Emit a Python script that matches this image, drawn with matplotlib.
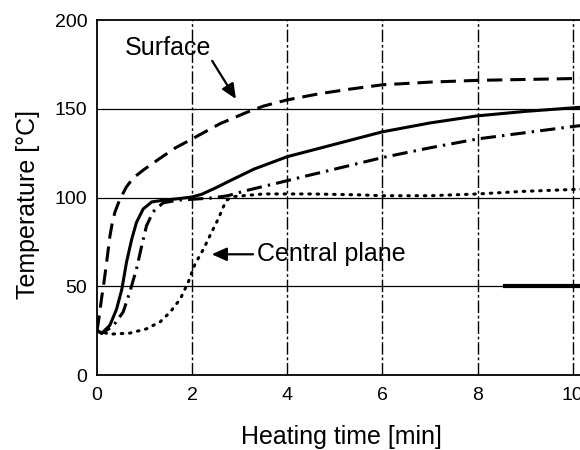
import matplotlib
matplotlib.use('Agg')
from matplotlib import pyplot as plt

# heating time [min] / temperature [degC] along each curve
surface_t = [0.0, 0.03, 0.06, 0.1, 0.13, 0.2, 0.27, 0.33, 0.38, 0.48, 0.62, 0.76,
	1.0, 1.32, 1.65, 2.0, 2.58, 3.15, 3.5, 4.0, 4.68, 5.3, 6.0, 7.0, 8.0, 9.0, 10.0, 10.5]
surface_temp = [25, 30, 36, 44, 49, 63, 78, 87, 92, 99, 106, 111,
	116, 122, 128, 133, 141.5, 148, 151.5, 155, 158.5, 161, 163.5, 165, 166, 166.5, 167, 167.5]

solid_t = [0.0, 0.1, 0.27, 0.41, 0.52, 0.62, 0.73, 0.83, 0.97, 1.15, 1.4, 1.7,
	2.0, 2.2, 2.5, 2.8, 3.3, 4.0, 5.0, 6.0, 7.0, 8.0, 9.0, 10.0, 10.5]
solid_temp = [25, 23.5, 28, 37, 48, 63.5, 76.5, 86, 93.5, 97.5, 98.5, 99.3,
	100.3, 101.8, 105.5, 109.5, 116, 123, 130, 137, 142, 146, 148.5, 150.5, 151.5]

dashdot_t = [0.0, 0.1, 0.34, 0.55, 0.69, 0.83, 0.94, 1.04, 1.18, 1.39, 1.7, 2.0,
	2.4, 2.75, 3.15, 3.85, 4.3, 5.0, 6.0, 7.0, 8.0, 9.0, 10.0, 10.5]
dashdot_temp = [25, 23.5, 27.6, 35.5, 46.8, 59.7, 72.8, 84, 92, 97, 98.5, 99,
	99.7, 101, 104, 108.5, 111.5, 116, 122.5, 128, 133, 136.5, 140, 141.5]

central_t = [0.0, 0.27, 0.69, 1.04, 1.33, 1.54, 1.75, 1.92, 2.06, 2.24, 2.41, 2.55,
	2.66, 2.74, 2.9, 3.5, 4.5, 5.5, 6.0, 7.0, 8.0, 9.0, 10.0, 10.5]
central_temp = [25, 23, 23.6, 26, 30, 35.5, 42.8, 52.4, 62.5, 71, 80.5, 88,
	95, 98.8, 100.6, 102, 102, 101.5, 101, 101, 102, 103.5, 104.5, 105]

x_ticks = [0, 2, 4, 6, 8, 10]
y_ticks = [0, 50, 100, 150, 200]


def main():
	plt.rcParams['font.family'] = ['Liberation Sans', 'DejaVu Sans']
	fig = plt.figure(figsize=(5.8, 4.5), dpi=100)
	ax = fig.add_axes([97 / 580, 75 / 450, 499.5 / 580, 355 / 450])

	ax.set_xlim(0, 10.5)
	ax.set_ylim(0, 200)

	# grid: solid horizontals, broken verticals
	for y in y_ticks[1:-1]:
		ax.axhline(y, color='black', linewidth=0.9, zorder=1)
	for x in x_ticks[1:]:
		ax.axvline(x, color='black', linewidth=1.0,
			linestyle=(0, (9, 2, 2, 2)), zorder=1)
	ax.plot([8.58, 10.5], [50, 50], color='black', linewidth=3, zorder=2)

	lw = 2.2
	ax.plot(surface_t, surface_temp, color='black', linewidth=lw,
		linestyle=(0, (5, 2.6)), zorder=3)
	ax.plot(solid_t, solid_temp, color='black', linewidth=lw, zorder=3)
	ax.plot(dashdot_t, dashdot_temp, color='black', linewidth=lw,
		linestyle=(0, (5, 2, 0.8, 2)), zorder=3)
	ax.plot(central_t, central_temp, color='black', linewidth=lw,
		linestyle=(0, (0.5, 2.2)), dash_capstyle='round', zorder=3)

	arrow = dict(arrowstyle='-|>,head_length=0.9,head_width=0.4',
		color='black', linewidth=1.6, shrinkA=0, shrinkB=0)
	ax.annotate('', xy=(2.92, 155.5), xytext=(2.42, 177), arrowprops=arrow)
	ax.text(1.49, 184, 'Surface', fontsize=18, ha='center', va='center')
	ax.annotate('', xy=(2.41, 68), xytext=(3.28, 68), arrowprops=arrow)
	ax.text(3.36, 68, 'Central plane', fontsize=18, ha='left', va='center')

	ax.set_xticks(x_ticks)
	ax.set_yticks(y_ticks)
	ax.tick_params(length=0, labelsize=14)
	ax.tick_params(axis='x', pad=9)
	ax.tick_params(axis='y', pad=7)

	ax.spines['right'].set_visible(False)
	for side in ['left', 'bottom', 'top']:
		ax.spines[side].set_linewidth(1.3)

	ax.set_xlabel('Heating time [min]', fontsize=18)
	ax.xaxis.set_label_coords(0.489, -0.142)
	ax.set_ylabel('Temperature [°C]', fontsize=18)
	ax.yaxis.set_label_coords(-0.115, 0.48)

	fig.savefig('out.png', dpi=100)


if __name__ == '__main__':
	main()
